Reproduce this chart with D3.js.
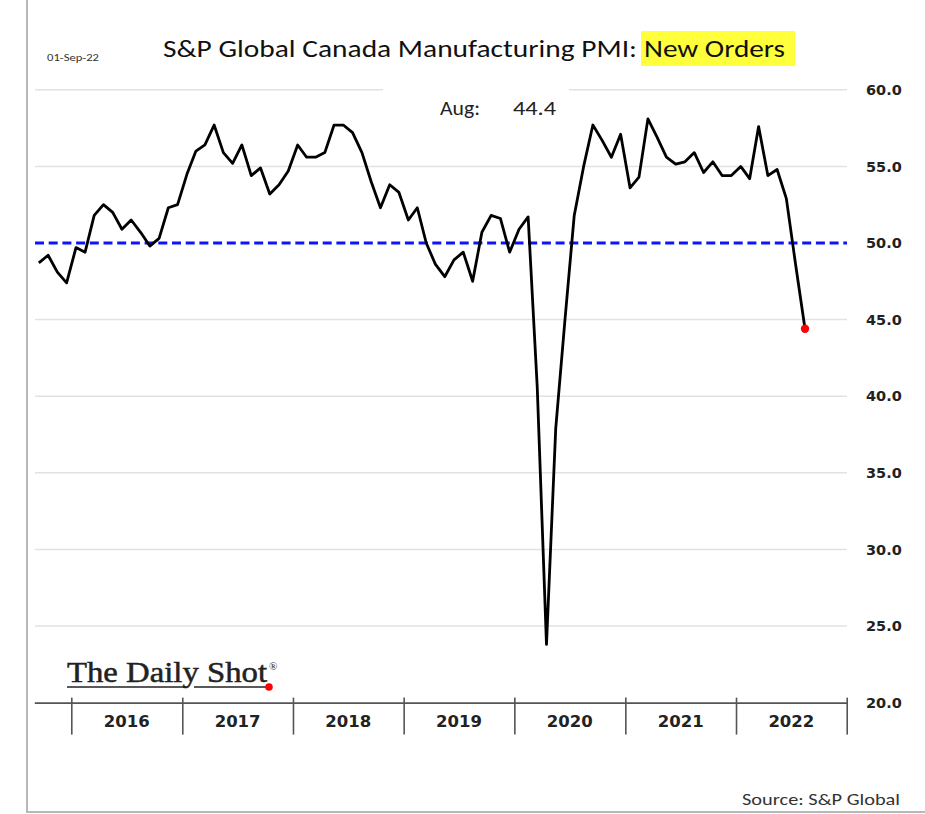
<!DOCTYPE html>
<html><head><meta charset="utf-8">
<script src="https://cdn.jsdelivr.net/npm/d3@7"></script>
<style>
html,body{margin:0;padding:0;background:#fff;}
svg{display:block;}
</style></head>
<body>
<svg id="chart" width="925" height="814"></svg>
<script>
// ---- data ----
const firstMonth = "2015-09";
const newOrders = [
  48.7, 49.2, 48.1, 47.4,
  49.7, 49.4, 51.8, 52.5, 52.0, 50.9, 51.5, 50.7, 49.8, 50.3, 52.3, 52.5,
  54.5, 56.0, 56.4, 57.7, 55.9, 55.2, 56.4, 54.4, 54.9, 53.2, 53.8, 54.7,
  56.4, 55.6, 55.6, 55.9, 57.7, 57.7, 57.2, 55.9, 54.0, 52.3, 53.8, 53.3,
  51.5, 52.3, 50.0, 48.6, 47.8, 48.9, 49.4, 47.5, 50.7, 51.8, 51.6, 49.4,
  50.9, 51.7, 40.6, 23.8, 37.9, 45.0, 51.8, 55.0, 57.7, 56.7, 55.6, 57.1,
  53.6, 54.3, 58.1, 56.9, 55.6, 55.15, 55.3, 55.9, 54.6, 55.3, 54.4, 54.4,
  55.0, 54.2, 57.6, 54.4, 54.8, 52.9, 48.6, 44.4
];
const yearLabels = ["2016","2017","2018","2019","2020","2021","2022"];
const yTicks = [20, 25, 30, 35, 40, 45, 50, 55, 60];
const threshold = 50;
const latestLabel = "Aug:";
const titleMain = "S&P Global Canada Manufacturing PMI: ";
const titleHighlight = "New Orders";
const dateStamp = "01-Sep-22";
const sourceText = "Source: S&P Global";

// ---- scales ----
const parseMonth = d3.timeParse("%Y-%m");
const start = parseMonth(firstMonth);
const months = newOrders.map((v, i) => d3.timeMonth.offset(start, i));
const data = months.map((d, i) => ({date: d, value: newOrders[i]}));

const x = d3.scaleTime()
  .domain([start, new Date(2023, 0, 1)])
  .range([34.3, 846.7]);
const y = d3.scaleLinear().domain([20, 60]).range([702.6, 89.8]);
const xMid = d => x(new Date((+d + +d3.timeMonth.offset(d, 1)) / 2));

const svg = d3.select("#chart");

// frame
svg.append("line").attr("x1", 27).attr("x2", 27).attr("y1", 0).attr("y2", 812)
  .attr("stroke", "#b8b8b8").attr("stroke-width", 2);
svg.append("line").attr("x1", 26).attr("x2", 925).attr("y1", 812).attr("y2", 812)
  .attr("stroke", "#b8b8b8").attr("stroke-width", 2);

// gridlines
svg.append("g").selectAll("line").data(yTicks.filter(v => v > 20 && v !== threshold))
  .join("line")
  .attr("x1", 35).attr("x2", 847)
  .attr("y1", d => y(d)).attr("y2", d => y(d))
  .attr("stroke", "#e2e2e2").attr("stroke-width", 1.5);

// white box behind latest value label
svg.append("rect").attr("x", 383).attr("y", 80).attr("width", 186).attr("height", 46)
  .attr("fill", "#fff");

// threshold dashed line
svg.append("line")
  .attr("x1", 35).attr("x2", 847)
  .attr("y1", y(threshold)).attr("y2", y(threshold))
  .attr("stroke", "#0a14ff").attr("stroke-width", 3)
  .attr("stroke-dasharray", "9,4.7");

// x axis
const yearStarts = d3.range(2016, 2024).map(yr => new Date(yr, 0, 1));
const xAxis = d3.axisBottom(x).tickValues(yearStarts).tickFormat("").tickSizeOuter(0);
const gx = svg.append("g").attr("transform", `translate(0,${y(20)})`).call(xAxis);
gx.select(".domain").attr("stroke", "#555").attr("stroke-width", 1.6);
gx.selectAll(".tick line").attr("y1", -5).attr("y2", 32).attr("stroke", "#555").attr("stroke-width", 1.6);

svg.append("g").selectAll("text").data(yearLabels).join("text")
  .attr("x", d => (x(new Date(+d, 0, 1)) + x(new Date(+d + 1, 0, 1))) / 2)
  .attr("y", 727)
  .attr("text-anchor", "middle")
  .attr("font-family", "DejaVu Sans, sans-serif")
  .attr("font-weight", "bold").attr("font-size", 16.5).attr("fill", "#222")
  .text(d => d);

// y axis (right)
const yAxis = d3.axisRight(y).tickValues(yTicks).tickFormat(d3.format(".1f")).tickSize(0);
const gy = svg.append("g").attr("transform", "translate(866,0)").call(yAxis);
gy.select(".domain").remove();
gy.selectAll(".tick text")
  .attr("x", 0)
  .attr("font-family", "DejaVu Sans, sans-serif")
  .attr("font-weight", "bold").attr("font-size", 14.5).attr("fill", "#222");

// line
const line = d3.line().x(d => xMid(d.date)).y(d => y(d.value));
svg.append("path").datum(data)
  .attr("d", line).attr("fill", "none")
  .attr("stroke", "#000").attr("stroke-width", 2.8)
  .attr("stroke-linejoin", "round");

// last point
const last = data[data.length - 1];
svg.append("circle").attr("cx", xMid(last.date)).attr("cy", y(last.value)).attr("r", 4.2)
  .attr("fill", "#ff0000");

// latest label
svg.append("text").attr("x", 440).attr("y", 115)
  .attr("font-family", "Carlito, 'Open Sans', sans-serif").attr("font-size", 21).attr("fill", "#222")
  .attr("textLength", 40).attr("lengthAdjust", "spacingAndGlyphs")
  .text(latestLabel);
svg.append("text").attr("x", 513).attr("y", 115)
  .attr("font-family", "Carlito, 'Open Sans', sans-serif").attr("font-size", 21).attr("fill", "#222")
  .attr("textLength", 43).attr("lengthAdjust", "spacingAndGlyphs")
  .text(d3.format(".1f")(last.value));

// title
const tMain = svg.append("text").attr("x", 163).attr("y", 57)
  .attr("font-family", "Carlito, 'Open Sans', sans-serif").attr("font-size", 24.5).attr("fill", "#111")
  .text(titleMain);
tMain.attr("textLength", 474).attr("lengthAdjust", "spacingAndGlyphs");
svg.append("rect").attr("x", 641).attr("y", 31).attr("width", 154).attr("height", 35)
  .attr("fill", "#ffff3c");
svg.append("text").attr("x", 644).attr("y", 57)
  .attr("font-family", "Carlito, 'Open Sans', sans-serif").attr("font-size", 24.5).attr("fill", "#111")
  .attr("textLength", 141).attr("lengthAdjust", "spacingAndGlyphs")
  .text(titleHighlight);

// date stamp
svg.append("text").attr("x", 47).attr("y", 61)
  .attr("font-family", "Carlito, 'Open Sans', sans-serif").attr("font-size", 10).attr("fill", "#333")
  .attr("textLength", 52).attr("lengthAdjust", "spacingAndGlyphs")
  .text(dateStamp);

// source
svg.append("text").attr("x", 900).attr("y", 805).attr("text-anchor", "end")
  .attr("font-family", "Carlito, 'Open Sans', sans-serif").attr("font-size", 16).attr("fill", "#333")
  .attr("textLength", 158).attr("lengthAdjust", "spacingAndGlyphs")
  .text(sourceText);

// The Daily Shot logo
const logo = svg.append("g");
logo.append("text").attr("x", 67).attr("y", 682)
  .attr("font-family", "'Liberation Serif', 'DejaVu Serif', serif").attr("font-size", 29).attr("fill", "#222")
  .attr("stroke", "#222").attr("stroke-width", 0.5)
  .attr("textLength", 200).attr("lengthAdjust", "spacingAndGlyphs")
  .text("The Daily Shot");
logo.append("text").attr("x", 269).attr("y", 670)
  .attr("font-family", "'Liberation Serif', serif").attr("font-size", 11).attr("fill", "#222")
  .text("®");
logo.append("line").attr("x1", 67).attr("x2", 186).attr("y1", 687).attr("y2", 687)
  .attr("stroke", "#222").attr("stroke-width", 1.5);
logo.append("line").attr("x1", 194).attr("x2", 268).attr("y1", 687).attr("y2", 687)
  .attr("stroke", "#222").attr("stroke-width", 1.5);
logo.append("circle").attr("cx", 269).attr("cy", 687).attr("r", 3.8).attr("fill", "#ff0000");
</script>
</body></html>
